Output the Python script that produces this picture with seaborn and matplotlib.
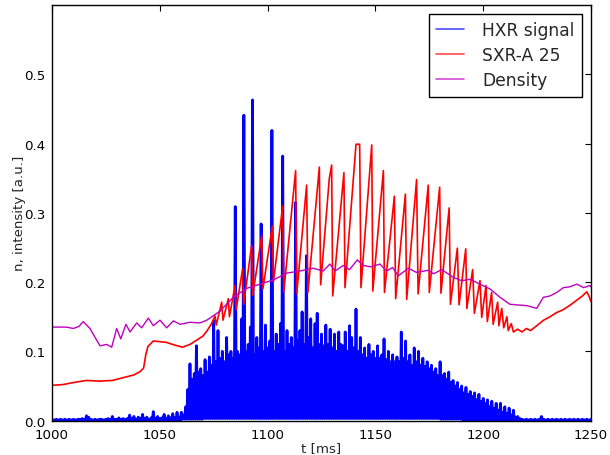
import numpy as np
import pandas as pd
import matplotlib
matplotlib.use("Agg")
import matplotlib.pyplot as plt
import seaborn as sns

# ---------------- data ----------------
# HXR signal: peak value per ms, 1000..1250 ms
hxr_start = 1000
hxr_peak = [
    0.002, 0.001, 0.002, 0.001, 0.002, 0.001, 0.002, 0.001, 0.002, 0.001,   # 1000
    0.002, 0.001, 0.002, 0.002, 0.003, 0.002, 0.007, 0.005, 0.002, 0.001,   # 1010
    0.002, 0.001, 0.002, 0.002, 0.001, 0.002, 0.003, 0.002, 0.006, 0.002,   # 1020
    0.002, 0.004, 0.002, 0.003, 0.002, 0.003, 0.008, 0.003, 0.006, 0.002,   # 1030
    0.005, 0.003, 0.009, 0.003, 0.005, 0.002, 0.004, 0.013, 0.003, 0.006,   # 1040
    0.003, 0.004, 0.009, 0.003, 0.007, 0.004, 0.010, 0.004, 0.012, 0.005,   # 1050
    0.012, 0.008, 0.020, 0.045, 0.082, 0.060, 0.068, 0.108, 0.070, 0.075,   # 1060
    0.065, 0.088, 0.070, 0.092, 0.080, 0.144, 0.085, 0.130, 0.090, 0.100,   # 1070
    0.085, 0.120, 0.095, 0.100, 0.090, 0.309, 0.100, 0.095, 0.147, 0.441,   # 1080
    0.100, 0.110, 0.135, 0.463, 0.095, 0.120, 0.105, 0.284, 0.100, 0.138,   # 1090
    0.105, 0.115, 0.419, 0.100, 0.125, 0.110, 0.140, 0.382, 0.100, 0.130,   # 1100
    0.110, 0.120, 0.105, 0.315, 0.115, 0.130, 0.157, 0.110, 0.238, 0.120,   # 1110
    0.147, 0.105, 0.140, 0.155, 0.110, 0.125, 0.108, 0.138, 0.110, 0.132,   # 1120
    0.105, 0.125, 0.100, 0.128, 0.110, 0.108, 0.128, 0.100, 0.137, 0.120,   # 1130
    0.105, 0.161, 0.100, 0.120, 0.095, 0.105, 0.090, 0.110, 0.095, 0.100,   # 1140
    0.090, 0.108, 0.090, 0.095, 0.118, 0.088, 0.100, 0.085, 0.095, 0.085,   # 1150
    0.092, 0.085, 0.128, 0.090, 0.115, 0.085, 0.095, 0.080, 0.105, 0.085,   # 1160
    0.100, 0.080, 0.090, 0.078, 0.085, 0.075, 0.080, 0.070, 0.075, 0.065,   # 1170
    0.085, 0.065, 0.068, 0.060, 0.070, 0.055, 0.058, 0.050, 0.055, 0.045,   # 1180
    0.050, 0.040, 0.048, 0.038, 0.042, 0.035, 0.040, 0.030, 0.038, 0.028,   # 1190
    0.032, 0.025, 0.030, 0.020, 0.028, 0.018, 0.025, 0.015, 0.025, 0.012,   # 1200
    0.020, 0.010, 0.018, 0.008, 0.015, 0.005, 0.006, 0.003, 0.002, 0.001,   # 1210
    0.002, 0.001, 0.002, 0.001, 0.002, 0.001, 0.002, 0.006, 0.002, 0.001,   # 1220
    0.002, 0.001, 0.002, 0.001, 0.002, 0.001, 0.002, 0.001, 0.002, 0.001,   # 1230
    0.002, 0.001, 0.002, 0.001, 0.002, 0.001, 0.002, 0.001, 0.002, 0.001,   # 1240
    0.002,                                                                   # 1250
]
# HXR floor level per 10 ms block (1000..1250)
hxr_floor = [0.0, 0.0, 0.0, 0.0, 0.0, 0.0, 0.002, 0.003, 0.003, 0.003,
             0.003, 0.003, 0.003, 0.003, 0.003, 0.003, 0.003, 0.003, 0.002, 0.001,
             0.0, 0.0, 0.0, 0.0, 0.0, 0.0]

# SXR-A 25
sxr_t = [1000, 1005, 1010, 1016, 1022, 1028, 1033, 1038, 1041, 1042.5, 1043.5, 1044.5,
         1047, 1050, 1053, 1057, 1060.5, 1064, 1067, 1070, 1072, 1074,
         1075.6, 1076.2, 1078.7, 1079.3, 1081.8, 1082.3, 1084.9, 1085.4, 1088.4, 1088.9,
         1092.6, 1093.1, 1097.3, 1097.8, 1102.2, 1102.7, 1107.0, 1107.5, 1113.0, 1113.5,
         1118.1, 1118.7, 1124.0, 1124.6, 1128.6, 1129.7, 1130.2, 1135.4, 1135.9,
         1141.0, 1142.7, 1143.3, 1148.3, 1148.8, 1153.7, 1154.2, 1158.8, 1159.4,
         1163.9, 1164.5, 1169.1, 1169.8, 1174.5, 1175.0, 1179.8, 1180.4, 1184.2, 1184.8,
         1188.0, 1188.8, 1191.9, 1192.4, 1195.1, 1195.9, 1198.5, 1199.3, 1201.3, 1201.9,
         1203.9, 1204.6, 1206.7, 1207.3, 1208.6, 1209.5, 1211.0, 1211.6, 1213.0, 1214.0,
         1216, 1218, 1220, 1222, 1224, 1226, 1228, 1231, 1234, 1237, 1240, 1243, 1246,
         1248, 1249, 1250]
sxr_v = [0.051, 0.052, 0.055, 0.058, 0.057, 0.058, 0.062, 0.066, 0.071, 0.076, 0.095, 0.107,
         0.115, 0.114, 0.113, 0.109, 0.106, 0.110, 0.116, 0.122, 0.130, 0.140,
         0.151, 0.138, 0.171, 0.145, 0.176, 0.150, 0.195, 0.160, 0.219, 0.168,
         0.253, 0.181, 0.267, 0.190, 0.281, 0.200, 0.310, 0.186, 0.361, 0.183,
         0.340, 0.185, 0.366, 0.196, 0.349, 0.369, 0.180, 0.358, 0.192,
         0.399, 0.399, 0.192, 0.398, 0.187, 0.361, 0.185, 0.324, 0.176,
         0.327, 0.175, 0.348, 0.183, 0.340, 0.185, 0.337, 0.184, 0.307, 0.168,
         0.249, 0.167, 0.248, 0.162, 0.218, 0.155, 0.202, 0.149, 0.195, 0.143,
         0.185, 0.139, 0.171, 0.137, 0.162, 0.134, 0.150, 0.130, 0.140, 0.128,
         0.132, 0.128, 0.133, 0.130, 0.135, 0.140, 0.145, 0.150, 0.156, 0.160, 0.166, 0.173, 0.180,
         0.186, 0.180, 0.172]

# Density
den_t = [1000, 1006.8, 1009.9, 1012.5, 1014.5, 1017.6, 1020, 1022.3, 1025.4, 1027.7, 1030, 1031.9,
         1034.3, 1036.2, 1039.3, 1041.6, 1044.7, 1047, 1050.1, 1053.2, 1056.3, 1059.4,
         1064, 1068.6, 1071.8, 1077.9, 1084.1, 1090.3, 1096.5, 1102.6, 1108.9, 1115,
         1121.2, 1125.8, 1128.9, 1131.3, 1135.1, 1138, 1141.6, 1144.4, 1148, 1152.1, 1155.2,
         1158, 1160.6, 1165.3, 1169, 1174.5, 1177, 1180.7, 1186.1, 1190, 1194, 1198.5,
         1203.2, 1207.8, 1212.4, 1216, 1220.2, 1224.8, 1227.9, 1231, 1234.1, 1237.2, 1240,
         1243.4, 1246.5, 1249.5, 1250]
den_v = [0.135, 0.135, 0.133, 0.136, 0.143, 0.133, 0.120, 0.108, 0.110, 0.106, 0.133, 0.118,
         0.139, 0.128, 0.141, 0.134, 0.148, 0.137, 0.145, 0.134, 0.144, 0.139,
         0.142, 0.141, 0.145, 0.158, 0.178, 0.191, 0.197, 0.203, 0.213, 0.216,
         0.220, 0.216, 0.226, 0.216, 0.224, 0.218, 0.232, 0.224, 0.222, 0.226, 0.216,
         0.221, 0.209, 0.220, 0.214, 0.217, 0.212, 0.218, 0.207, 0.202, 0.204, 0.197,
         0.190, 0.178, 0.168, 0.167, 0.166, 0.162, 0.178, 0.180, 0.185, 0.192, 0.193,
         0.197, 0.192, 0.195, 0.193]

x_ticks = [1000, 1050, 1100, 1150, 1200, 1250]
y_ticks = [0.0, 0.1, 0.2, 0.3, 0.4, 0.5]

# ---------------- build HXR sample table (peak / floor interleaved) ----------------
hxr_t, hxr_v = [], []
for i, pk in enumerate(hxr_peak):
    t = hxr_start + i
    fl = hxr_floor[min(i // 10, len(hxr_floor) - 1)]
    hxr_t += [t, t + 0.5]
    hxr_v += [pk, fl]
df_hxr = pd.DataFrame({"t": hxr_t, "v": hxr_v})
df_sxr = pd.DataFrame({"t": sxr_t, "v": sxr_v})
df_den = pd.DataFrame({"t": den_t, "v": den_v})

# ---------------- plot ----------------
sns.set_style("white")
plt.rcParams.update({
    "font.family": ["DejaVu Sans"],
    "xtick.direction": "in", "ytick.direction": "in",
    "xtick.top": True, "ytick.right": True,
    "xtick.major.size": 4, "ytick.major.size": 4,
    "axes.edgecolor": "black", "axes.linewidth": 1.0,
})

fig = plt.figure(figsize=(6.1, 4.56), dpi=100)
ax = fig.add_axes([0.0852, 0.0754, 0.8837, 0.9114])

sns.lineplot(data=df_hxr, x="t", y="v", ax=ax, color="blue", lw=2.0,
             estimator=None, sort=False, label="HXR signal")
sns.lineplot(data=df_sxr, x="t", y="v", ax=ax, color="red", lw=1.2,
             estimator=None, sort=False, label="SXR-A 25")
sns.lineplot(data=df_den, x="t", y="v", ax=ax, color="m", lw=1.0,
             estimator=None, sort=False, label="Density")

ax.set_xlim(1000, 1250)
ax.set_ylim(0, 0.6)
ax.set_xticks(x_ticks)
ax.set_yticks(y_ticks)
ax.set_xticklabels([str(v) for v in x_ticks], fontsize=9.6)
ax.set_yticklabels([f"{v:.1f}" for v in y_ticks], fontsize=9.6)
ax.tick_params(axis="both", which="both", direction="in", top=True, right=True,
               length=4, width=0.8, colors="black", pad=5)
ax.set_xlabel("t [ms]", fontsize=9.6, labelpad=0)
ax.set_ylabel("n, intensity [a.u.]", fontsize=9.6, labelpad=-1.5)

leg = ax.legend(loc="upper right", fontsize=12.3, frameon=True, fancybox=False,
                framealpha=1, edgecolor="black", handlelength=1.6, handletextpad=1.1,
                borderaxespad=0.5, borderpad=0.45, labelspacing=0.4)
leg.get_frame().set_linewidth(1.0)
for h in leg.get_lines():
    h.set_alpha(0.7)
    h.set_linewidth(1.2)

fig.savefig("out.png", dpi=100)
